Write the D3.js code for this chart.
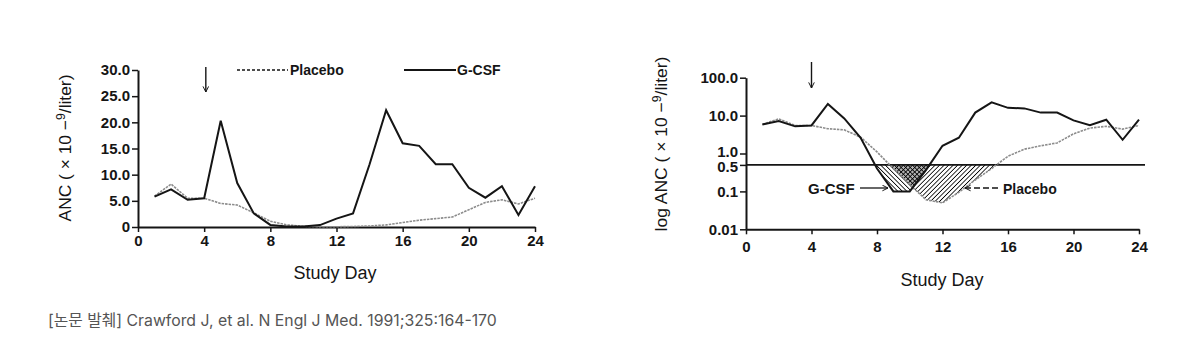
<!DOCTYPE html>
<html>
<head>
<meta charset="utf-8">
<script src="https://cdn.jsdelivr.net/npm/d3@7"></script>
<style>
  html, body { margin: 0; padding: 0; background: #fff; }
  svg { display: block; }
  .tick text { font-family: "Liberation Sans", Arial, sans-serif; }
</style>
</head>
<body>
<svg id="chart" width="1200" height="355"></svg>
<script>
// ---- data ----
const days = [1,2,3,4,5,6,7,8,9,10,11,12,13,14,15,16,17,18,19,20,21,22,23,24];
const gcsf = [5.8,7.2,5.2,5.5,20.3,8.4,2.6,0.4,0.1,0.1,0.37,1.6,2.6,12.0,22.3,16.0,15.5,12.0,12.0,7.5,5.6,7.8,2.3,7.8];
const placebo = [5.9,8.2,5.5,5.5,4.5,4.2,2.7,1.1,0.4,0.15,0.06,0.05,0.095,0.2,0.4,0.85,1.3,1.6,1.9,3.3,4.7,5.2,4.4,5.5];
const xTicks = [0,4,8,12,16,20,24];
const yTicksLinear = [0,5,10,15,20,25,30];
const yTicksLog = [0.01,0.1,0.5,1,10,100];
const threshold = 0.5;
const arrowDay = 4.1;
const seriesNames = ["Placebo","G-CSF"];
const caption = "[논문 발췌] Crawford J, et al. N Engl J Med. 1991;325:164-170";

const svg = d3.select("#chart");
const FONT = '"Liberation Sans", Arial, Helvetica, sans-serif';
const INK = "#151515";
const GRAY = "#8c8c8c";

const defs = svg.append("defs");
defs.append("marker").attr("id","ah").attr("viewBox","0 0 10 10").attr("refX",9).attr("refY",5)
  .attr("markerWidth",7).attr("markerHeight",7).attr("orient","auto-start-reverse")
  .attr("markerUnits","userSpaceOnUse")
  .append("path").attr("d","M1,1 L9,5 L1,9").attr("fill","none").attr("stroke",INK).attr("stroke-width",1.4);
const pG = defs.append("pattern").attr("id","hatchG").attr("patternUnits","userSpaceOnUse")
  .attr("width",3.2).attr("height",3.2).attr("patternTransform","rotate(-45)");
pG.append("line").attr("x1",0).attr("y1",0).attr("x2",0).attr("y2",3.2).attr("stroke","#000").attr("stroke-width",1.6);
const pP = defs.append("pattern").attr("id","hatchP").attr("patternUnits","userSpaceOnUse")
  .attr("width",3.2).attr("height",3.2).attr("patternTransform","rotate(45)");
pP.append("line").attr("x1",0).attr("y1",0).attr("x2",0).attr("y2",3.2).attr("stroke","#000").attr("stroke-width",1.6);

function yLabel(g, x, y, prefix, target) {
  const t = g.append("text")
    .attr("text-anchor","middle").attr("font-family",FONT).attr("font-size",17).attr("fill",INK);
  t.append("tspan").text(prefix + "( \u00d7 10 \u2212");
  t.append("tspan").attr("dy",-6).attr("font-size",12).text("9");
  t.append("tspan").attr("dy",6).text("/liter)");
  const len = t.node().getComputedTextLength();
  t.attr("transform",`translate(${x},${y}) rotate(-90) scale(${target/len},1)`);
}

function styleAxis(g) {
  g.select(".domain").attr("stroke",INK).attr("stroke-width",2);
  g.selectAll(".tick line").attr("stroke",INK).attr("stroke-width",1.5);
  g.selectAll(".tick text").attr("font-size",15).attr("font-weight","bold").attr("fill",INK);
}

function downArrow(g, x, y1, y2) {
  g.append("line").attr("x1",x).attr("x2",x).attr("y1",y1).attr("y2",y2)
    .attr("stroke",INK).attr("stroke-width",1.4).attr("marker-end","url(#ah)");
}

// ================= LEFT: linear chart =================
const xL = d3.scaleLinear().domain([0,24]).range([138,535]);
const yL = d3.scaleLinear().domain([0,30]).range([227,70]);
const gL = svg.append("g");

gL.append("g").attr("transform",`translate(0,${yL(0)})`)
  .call(d3.axisBottom(xL).tickValues(xTicks).tickSize(5).tickSizeOuter(0).tickPadding(3))
  .call(styleAxis);
gL.append("g").attr("transform",`translate(${xL(0)},0)`)
  .call(d3.axisLeft(yL).tickValues(yTicksLinear).tickSize(6).tickSizeOuter(0).tickPadding(2)
    .tickFormat(d => d === 0 ? "0" : d.toFixed(1)))
  .call(styleAxis);

const lineL = (arr) => d3.line().x((d,i) => xL(days[i])).y(d => yL(d))(arr);
gL.append("path").attr("d",lineL(placebo)).attr("fill","none").attr("stroke",GRAY)
  .attr("stroke-width",1.6).attr("stroke-dasharray","2.5,1");
gL.append("path").attr("d",lineL(gcsf)).attr("fill","none").attr("stroke",INK)
  .attr("stroke-width",2).attr("stroke-linejoin","miter");

yLabel(gL, 71, 148, "ANC ", 147);
gL.append("text").attr("x",335).attr("y",279).attr("text-anchor","middle")
  .attr("font-family",FONT).attr("font-size",18).attr("fill",INK).text("Study Day");

// legend
gL.append("line").attr("x1",237).attr("x2",288).attr("y1",70).attr("y2",70)
  .attr("stroke",INK).attr("stroke-width",1.5).attr("stroke-dasharray","3,2");
gL.append("text").attr("x",290).attr("y",75).attr("font-family",FONT).attr("font-size",14)
  .attr("font-weight","bold").attr("fill",INK).text(seriesNames[0]);
gL.append("line").attr("x1",404).attr("x2",456).attr("y1",70).attr("y2",70)
  .attr("stroke",INK).attr("stroke-width",1.8);
gL.append("text").attr("x",457).attr("y",75).attr("font-family",FONT).attr("font-size",14)
  .attr("font-weight","bold").attr("fill",INK).text(seriesNames[1]);
downArrow(gL, xL(arrowDay), 67, 92);

// ================= RIGHT: log chart =================
const xR = d3.scaleLinear().domain([0,24]).range([746,1139]);
const yR = d3.scaleLog().domain([0.01,100]).range([229.3,77.7]);
const gR = svg.append("g");

defs.append("clipPath").attr("id","below").append("rect")
  .attr("x",xR(0)).attr("y",yR(threshold)).attr("width",xR(24)-xR(0)).attr("height",yR(0.01)-yR(threshold));

const areaR = (arr) => d3.area().x((d,i) => xR(days[i])).y0(yR(threshold)).y1(d => yR(d))(arr);
defs.append("clipPath").attr("id","gcsfRegion").append("path").attr("d",areaR(gcsf));
const shade = gR.append("g").attr("clip-path","url(#below)");
shade.append("path").attr("d",areaR(gcsf)).attr("fill","url(#hatchG)");
shade.append("path").attr("d",areaR(placebo)).attr("fill","url(#hatchP)");
shade.append("g").attr("clip-path","url(#gcsfRegion)")
  .append("path").attr("d",areaR(placebo)).attr("fill","#000").attr("fill-opacity",0.3);

gR.append("g").attr("transform",`translate(0,${yR(0.01)})`)
  .call(d3.axisBottom(xR).tickValues(xTicks).tickSize(5).tickSizeOuter(0).tickPadding(7))
  .call(styleAxis);
const yAxR = gR.append("g").attr("transform",`translate(${xR(0)},0)`)
  .call(d3.axisLeft(yR).tickValues(yTicksLog).tickSize(6).tickSizeOuter(0).tickPadding(2)
    .tickFormat(d => d < 0.1 ? "0.01" : d.toFixed(1)))
  .call(styleAxis);
yAxR.selectAll(".tick text").filter(d => d === 1).attr("dy","0.2em");
yAxR.selectAll(".tick text").filter(d => d === 0.5).attr("dy","0.42em");

gR.append("line").attr("x1",xR(0)).attr("x2",1145).attr("y1",yR(threshold)).attr("y2",yR(threshold))
  .attr("stroke",INK).attr("stroke-width",1.6);

const lineR = (arr) => d3.line().x((d,i) => xR(days[i])).y(d => yR(d))(arr);
gR.append("path").attr("d",lineR(placebo)).attr("fill","none").attr("stroke",GRAY)
  .attr("stroke-width",1.6).attr("stroke-dasharray","2.5,1");
gR.append("path").attr("d",lineR(gcsf)).attr("fill","none").attr("stroke",INK)
  .attr("stroke-width",2);

yLabel(gR, 667, 144, "log ANC ", 175);
gR.append("text").attr("x",942).attr("y",286).attr("text-anchor","middle")
  .attr("font-family",FONT).attr("font-size",18).attr("fill",INK).text("Study Day");
downArrow(gR, xR(4), 62, 88);

// annotations
gR.append("text").attr("x",808).attr("y",194).attr("font-family",FONT).attr("font-size",15)
  .attr("font-weight","bold").attr("fill",INK).text(seriesNames[1]);
gR.append("line").attr("x1",860).attr("x2",888).attr("y1",188).attr("y2",188)
  .attr("stroke",INK).attr("stroke-width",1.3).attr("marker-end","url(#ah)");
gR.append("text").attr("x",1003).attr("y",194).attr("font-family",FONT).attr("font-size",14)
  .attr("font-weight","bold").attr("fill",INK).text(seriesNames[0]);
gR.append("line").attr("x1",998).attr("x2",965).attr("y1",188).attr("y2",188)
  .attr("stroke",INK).attr("stroke-width",1.3).attr("stroke-dasharray","6,3").attr("marker-end","url(#ah)");

// caption
svg.append("text").attr("x",48).attr("y",326)
  .attr("font-family",'Inter, "Noto Sans CJK KR", sans-serif').attr("font-size",15.8)
  .attr("fill","#555").text(caption);
</script>
</body>
</html>
